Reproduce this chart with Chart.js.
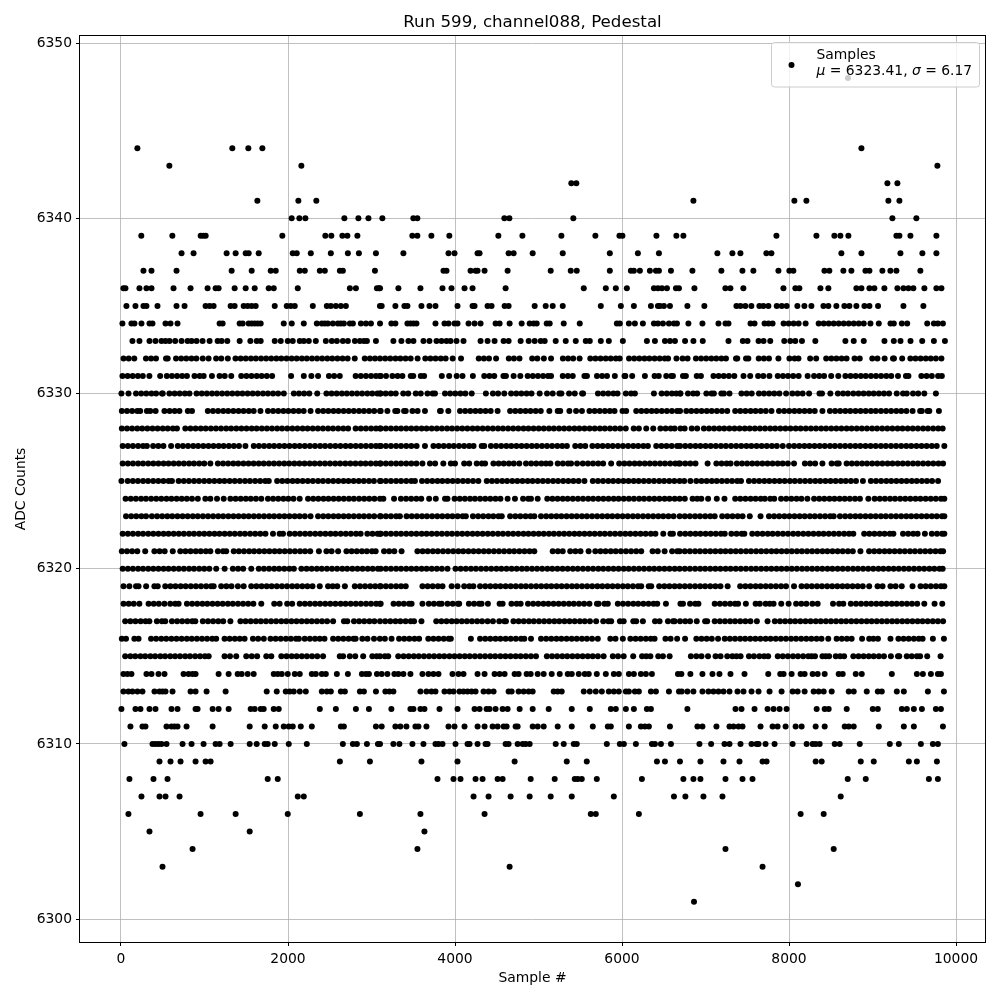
<!DOCTYPE html>
<html><head><meta charset="utf-8">
<style>html,body{margin:0;padding:0;background:#fff}canvas{display:block}</style>
<script src="https://cdn.jsdelivr.net/npm/chart.js@4/dist/chart.umd.min.js"></script>
</head><body><canvas id="c" width="1000" height="1000"></canvas>
<script>
const chartTitle="Run 599, channel088, Pedestal";
const xLabel="Sample #";
const yLabel="ADC Counts";
const seriesName="Samples";
const statMu="6323.41";
const statSigma="6.17";
const s6301=[6862];
const s6302=[8107];
const s6303=[497,4654,7683];
const s6304=[857,3550,7239,8535];
const s6305=[341,1541,3634];
const s6306=[89,953,1373,1997,2861,3586,4354,5626,5686,6202,8139,8415];
const s6307=[245,461,533,701,2117,2189,4222,4402,4666,4894,5146,5398,5902,6622,6759,6975,7203,8619];
const s6308=[101,389,557,1757,1877,3790,3982,4066,4246,4330,4510,4570,4906,5194,5434,5470,5518,5698,6238,6735,6855,6939,7239,7443,7563,8703,8919,9675,9783];
const s6309=[461,593,713,893,1013,1073,2621,2981,3598,4030,4714,5338,5578,6418,6514,6694,6939,7215,7407,7683,7731,8319,8391,8859,9015,9435,9531,9771];
const s6310=[41,377,413,449,485,545,737,845,989,1133,1181,1313,1541,1625,1721,1757,1841,2009,2225,2657,2777,2825,2945,3077,3102,3262,3334,3490,3622,3766,3802,3850,4006,4150,4174,4270,4366,4390,4606,4642,4750,4810,4846,4894,5206,5302,5422,5458,5818,5974,6022,6166,6358,6394,6466,6586,6927,7067,7227,7287,7419,7551,7611,7635,7719,7827,8043,8211,8283,8319,8367,8547,8607,8847,9207,9315,9579,9723,9783];
const s6311=[113,257,293,545,605,641,677,785,1097,1541,1721,1853,1949,2009,2057,2153,2285,2633,2669,3053,3122,3286,3346,3418,3526,3562,3658,3922,3994,4114,4270,4354,4450,4510,4582,4618,4726,4750,4930,4990,5062,5230,5398,5650,5830,5866,6082,6226,6274,6322,6574,6903,6963,7131,7287,7335,7395,7443,7659,7803,7863,7959,8079,8151,8319,8427,8667,8715,8775,9075,9375,9495,9843];
const s6312=[5,173,233,341,413,605,677,893,917,1097,1169,1289,1553,1601,1673,1709,1829,1889,2381,2573,2813,2969,3238,3466,3502,3586,3634,3814,4030,4234,4294,4378,4414,4486,4570,4630,4774,4930,5122,5398,5614,5866,5926,6046,6142,6298,6346,6783,7359,7431,7587,7743,7815,7887,7971,8331,8427,8475,8691,9003,9063,9351,9411,9495,9591,9759,9819];
const s6313=[29,89,137,197,257,401,461,497,533,617,833,893,1025,1253,1745,1865,1973,2021,2069,2141,2213,2405,2465,2513,2633,2681,2861,2909,3053,3166,3214,3262,3586,3658,3718,3766,3874,3934,3982,4054,4102,4150,4198,4246,4342,4402,4462,4642,4678,4762,4822,4882,4930,5182,5230,5278,5542,5614,5686,5758,5842,5902,5962,6046,6082,6154,6202,6346,6406,6562,6682,6715,6783,6855,6963,7035,7095,7155,7215,7287,7383,7455,7551,7635,7767,7911,8043,8103,8187,8295,8355,8415,8511,8715,8775,8931,9063,9111,9291,9375,9663,9855];
const s6314=[29,77,125,305,365,449,521,749,809,857,893,1169,1289,1397,1445,1517,1589,1829,1877,1925,1997,2081,2141,2285,2333,2405,2453,2585,2717,2885,2933,2969,3065,3122,3190,3274,3322,3382,3466,3610,3682,3742,3802,3970,4042,4102,4270,4354,4474,4534,4594,4714,4762,4858,4906,4990,5062,5158,5254,5350,5398,5482,5554,5602,5698,5806,5902,5962,6082,6142,6226,6286,6358,6670,6711,6819,6963,7083,7167,7299,7467,7751,7895,7935,8031,8139,8187,8283,8343,8427,8595,8643,8799,8871,9231,9531,9603,9699,9783,9819];
const s6315=[50,112,171,233,290,352,409,471,528,590,648,707,769,826,888,947,1005,1050,1240,1305,1380,1500,1566,1630,1740,1800,1920,1982,2044,2103,2165,2226,2288,2350,2420,2620,2660,2740,2805,2900,3010,3062,3102,3160,3200,3320,3384,3445,3507,3566,3628,3689,3750,3812,3871,3933,3994,4055,4117,4176,4238,4299,4360,4422,4481,4543,4604,4665,4727,4786,4848,4909,4970,5100,5162,5223,5285,5344,5406,5467,5528,5590,5649,5711,5780,5890,5952,6020,6134,6240,6290,6340,6434,6490,6570,6825,6890,6952,7030,7120,7180,7260,7322,7370,7420,7520,7580,7645,7702,7750,7865,7925,7986,8048,8107,8169,8230,8270,8311,8400,8440,8480,8560,8612,8660,8770,8832,8893,8955,9014,9076,9137,9220,9305,9320,9410,9470,9532,9570,9655,9815];
const s6316=[10,60,160,210,360,421,483,542,604,665,726,788,847,909,970,1031,1093,1140,1240,1301,1363,1422,1480,1580,1642,1710,1790,1852,1913,1975,2034,2096,2130,2200,2262,2323,2380,2437,2540,2602,2663,2725,2784,2810,2890,2952,3030,3100,3160,3240,3330,3392,3453,3515,3570,3680,3742,3803,3865,3924,3950,4190,4300,4362,4423,4485,4544,4606,4667,4728,4790,4830,4910,5030,5092,5153,5215,5274,5336,5397,5458,5520,5579,5641,5710,5860,5922,6010,6100,6162,6223,6285,6344,6390,6520,6582,6660,6755,6890,6952,7013,7075,7150,7230,7292,7353,7415,7474,7536,7597,7658,7720,7779,7841,7902,7963,8025,8084,8146,8207,8268,8330,8389,8470,8570,8632,8693,8750,8875,8960,9010,9065,9215,9310,9372,9433,9495,9554,9600,9723,9855];
const s6317=[50,112,173,235,294,340,430,490,530,610,672,733,795,854,890,980,1042,1103,1165,1224,1310,1430,1492,1553,1615,1674,1736,1797,1858,1920,1979,2041,2102,2163,2225,2284,2346,2407,2468,2540,2670,2710,2790,2852,2913,2975,3034,3102,3164,3225,3287,3346,3408,3469,3510,3598,3775,3837,3898,3960,4019,4081,4142,4203,4265,4324,4390,4454,4530,4592,4610,4700,4762,4823,4885,4944,5006,5067,5128,5190,5249,5311,5372,5433,5495,5554,5616,5690,5775,5837,5870,5975,6020,6135,6170,6250,6395,6450,6550,6612,6630,6695,6757,6815,6895,6995,7020,7110,7172,7233,7295,7354,7416,7477,7538,7615,7743,7830,7892,7953,8015,8074,8136,8197,8258,8320,8379,8441,8502,8563,8625,8684,8746,8807,8868,8930,8989,9051,9112,9173,9235,9294,9356,9417,9478,9540,9599,9661,9722,9783,9845];
const s6318=[30,92,153,220,330,392,453,520,590,650,690,790,852,913,975,1034,1096,1157,1218,1280,1339,1401,1462,1523,1585,1680,1835,1900,1990,2050,2140,2202,2263,2325,2384,2446,2507,2568,2630,2689,2751,2812,2873,2935,2994,3056,3102,3110,3264,3326,3387,3449,3480,3610,3686,3748,3809,3840,3910,3972,4034,4050,4166,4228,4289,4318,4394,4534,4570,4676,4738,4786,4874,4936,4997,5059,5118,5180,5241,5302,5364,5423,5485,5546,5610,5700,5720,5790,5830,5950,6012,6073,6135,6194,6256,6317,6378,6422,6526,6700,6730,6815,6877,6915,7110,7172,7233,7295,7354,7390,7483,7600,7650,7720,7770,7815,7907,7995,8085,8147,8208,8280,8343,8527,8600,8650,8740,8802,8863,8925,8984,9046,9107,9168,9230,9289,9351,9412,9473,9535,9620,9743,9835];
const s6319=[30,100,180,210,301,400,440,530,592,653,715,774,836,897,958,1020,1079,1110,1200,1262,1323,1400,1469,1560,1622,1683,1745,1804,1866,1927,1988,2050,2109,2171,2232,2293,2380,2480,2535,2590,2681,2800,2862,2923,2985,3044,3102,3110,3172,3233,3295,3354,3410,3610,3672,3733,3795,3850,3960,4030,4110,4172,4220,4300,4362,4423,4485,4544,4606,4667,4728,4790,4849,4911,4972,5033,5095,5154,5216,5277,5338,5400,5459,5521,5582,5643,5705,5764,5826,5887,5948,6010,6069,6131,6192,6230,6320,6350,6445,6507,6568,6630,6690,6752,6813,6875,6936,6995,7057,7118,7179,7265,7415,7477,7538,7600,7659,7721,7782,7843,7905,7964,8060,8150,8212,8273,8335,8394,8456,8517,8578,8640,8699,8761,8822,8883,8960,9060,9120,9215,9277,9350,9479,9575,9637,9698,9760,9819,9860];
const s6320=[20,82,143,205,264,326,387,448,510,569,631,692,753,815,874,936,997,1058,1140,1241,1340,1402,1463,1560,1650,1712,1773,1835,1894,1956,2017,2070,2160,2222,2283,2345,2404,2466,2527,2588,2650,2709,2771,2832,2893,2955,3014,3076,3110,3172,3233,3295,3354,3416,3477,3538,3600,3659,3721,3782,3843,3910,4006,4068,4129,4191,4250,4312,4373,4434,4496,4555,4617,4678,4739,4801,4860,4922,4983,5044,5106,5165,5227,5288,5349,5411,5470,5532,5593,5654,5716,5775,5837,5898,5959,6021,6080,6142,6203,6264,6326,6385,6447,6508,6569,6631,6690,6752,6813,6875,6936,6995,7057,7118,7179,7241,7300,7362,7423,7484,7546,7605,7667,7728,7789,7851,7910,7972,8033,8094,8156,8215,8277,8338,8399,8461,8520,8582,8643,8704,8766,8825,8887,8948,9009,9071,9130,9192,9253,9314,9376,9435,9497,9558,9619,9681,9740,9802,9840];
const s6321=[10,72,133,195,290,400,462,523,620,710,772,833,895,954,1016,1070,1160,1222,1260,1350,1412,1473,1535,1594,1656,1717,1778,1840,1899,1961,2022,2083,2145,2204,2266,2370,2460,2522,2600,2700,2762,2823,2885,2944,3006,3050,3150,3212,3273,3360,3550,3612,3673,3735,3794,3856,3917,3978,4040,4099,4161,4222,4283,4345,4404,4466,4527,4588,4650,4709,4771,4832,4893,4950,5170,5232,5290,5380,5442,5503,5600,5680,5742,5803,5865,5924,5986,6047,6108,6170,6230,6366,6428,6510,6600,6662,6690,6752,6813,6875,6934,6996,7057,7118,7180,7239,7301,7362,7423,7485,7544,7606,7667,7728,7790,7849,7911,7972,8033,8095,8154,8216,8277,8338,8400,8459,8521,8582,8643,8705,8764,8855,8959,9021,9082,9144,9203,9265,9326,9387,9449,9508,9570,9631,9692,9754,9813,9845];
const s6322=[20,82,143,205,264,326,387,448,510,569,631,692,753,815,874,936,997,1058,1120,1179,1241,1302,1363,1425,1484,1546,1607,1668,1730,1820,1900,1940,2020,2082,2143,2205,2264,2326,2387,2448,2510,2569,2631,2692,2753,2815,2870,2950,3012,3073,3102,3110,3172,3233,3295,3354,3416,3477,3538,3600,3659,3721,3782,3843,3905,3964,4026,4087,4148,4210,4269,4331,4392,4453,4515,4574,4636,4697,4758,4820,4879,4941,5002,5063,5125,5184,5246,5307,5368,5430,5489,5551,5612,5673,5735,5794,5856,5917,5978,6040,6099,6161,6222,6283,6345,6400,6494,6580,6610,6695,6757,6818,6880,6939,7001,7062,7123,7185,7230,7310,7372,7433,7465,7560,7622,7683,7745,7804,7866,7927,7988,8050,8109,8171,8232,8293,8355,8414,8476,8537,8598,8660,8719,8770,8900,8962,9023,9085,9144,9206,9250,9365,9427,9488,9540,9627,9710,9772,9833,9860];
const s6323=[60,122,183,245,300,370,432,493,555,614,676,737,798,860,919,981,1042,1103,1165,1224,1286,1347,1408,1470,1529,1591,1652,1713,1775,1834,1896,1957,2018,2080,2139,2201,2270,2360,2422,2483,2545,2604,2666,2727,2788,2850,2909,2971,3032,3102,3110,3172,3233,3295,3340,3420,3482,3543,3605,3664,3726,3787,3848,3910,3969,4031,4092,4130,4215,4277,4338,4400,4459,4521,4560,4660,4722,4783,4845,4904,4950,5030,5092,5153,5215,5274,5336,5397,5458,5520,5579,5641,5702,5763,5825,5884,5946,6007,6068,6130,6189,6251,6312,6373,6435,6494,6556,6617,6690,6752,6813,6875,6934,6996,7057,7110,7200,7262,7323,7385,7444,7530,7659,7760,7822,7883,7945,8004,8066,8127,8188,8250,8309,8371,8432,8493,8535,8610,8672,8733,8795,8854,8916,8977,9038,9100,9159,9221,9282,9343,9405,9464,9526,9587,9648,9710,9769,9831,9860];
const s6324=[55,117,178,240,299,361,422,483,545,604,666,727,788,850,920,1010,1070,1150,1230,1310,1372,1433,1495,1554,1616,1680,1760,1822,1883,1945,2004,2066,2140,2240,2302,2363,2425,2484,2546,2607,2668,2730,2789,2851,2912,2973,3035,3102,3142,3270,3352,3414,3475,3537,3596,3690,3770,3880,3910,3995,4057,4118,4180,4239,4301,4362,4423,4485,4544,4630,4718,4815,4877,4910,4990,5105,5167,5228,5290,5349,5411,5472,5533,5595,5654,5716,5777,5838,5900,5959,6021,6082,6143,6205,6264,6326,6387,6448,6510,6569,6631,6690,6752,6845,6900,6950,7031,7135,7227,7355,7417,7478,7540,7599,7661,7710,7775,7823,7905,7967,8028,8090,8149,8220,8300,8362,8423,8485,8544,8606,8667,8728,8790,8849,8950,9025,9087,9148,9210,9269,9331,9392,9453,9515,9574,9636,9697,9758,9820,9860];
const s6325=[5,80,142,203,265,324,386,447,508,570,610,690,752,813,875,934,996,1057,1118,1180,1239,1301,1362,1423,1485,1544,1606,1667,1728,1770,1870,1932,1993,2055,2114,2176,2237,2298,2360,2419,2481,2542,2603,2665,2724,2786,2847,2908,2970,3029,3102,3110,3172,3233,3295,3354,3416,3477,3520,3605,3667,3728,3790,3849,3911,3972,4033,4095,4154,4216,4280,4380,4442,4503,4565,4624,4686,4747,4808,4870,4929,4991,5052,5113,5175,5234,5296,5357,5418,5480,5550,5650,5712,5773,5835,5894,5956,6017,6078,6140,6199,6261,6322,6383,6445,6504,6566,6627,6690,6745,6819,6890,6952,7013,7075,7134,7196,7257,7318,7380,7425,7520,7582,7643,7705,7764,7826,7887,7948,8010,8069,8131,8192,8253,8315,8374,8436,8497,8558,8620,8679,8741,8802,8885,8980,9042,9103,9165,9224,9286,9347,9408,9470,9529,9591,9652,9713,9785];
const s6326=[20,82,143,205,264,326,387,448,510,569,631,692,753,815,874,936,997,1070,1160,1222,1283,1345,1404,1466,1527,1588,1650,1709,1771,1832,1893,1955,2014,2076,2137,2198,2260,2319,2381,2442,2503,2565,2624,2686,2747,2808,2870,2929,2991,3052,3102,3110,3172,3233,3295,3354,3416,3477,3538,3610,3700,3762,3860,3950,4000,4110,4170,4260,4322,4360,4460,4522,4583,4645,4704,4770,4850,4912,4973,5035,5090,5142,5230,5292,5353,5390,5462,5530,5592,5653,5715,5774,5870,5966,6028,6089,6151,6210,6272,6333,6394,6456,6515,6577,6638,6680,6695,6757,6818,6880,7025,7130,7192,7253,7300,7375,7437,7498,7560,7619,7681,7742,7803,7865,7924,7986,8060,8190,8252,8313,8400,8510,8572,8595,8690,8752,8813,8875,8934,8996,9057,9118,9180,9239,9301,9362,9423,9485,9544,9606,9667,9728,9790,9845];
const s6327=[20,82,143,205,264,310,385,447,508,600,680,742,803,865,924,986,1047,1108,1170,1229,1291,1352,1413,1490,1590,1652,1713,1775,1834,1896,1957,2018,2080,2139,2201,2262,2323,2385,2444,2506,2567,2628,2690,2749,2811,2872,2933,2995,3054,3102,3110,3172,3233,3295,3354,3416,3477,3540,3640,3742,3804,3865,3927,3986,4048,4109,4170,4222,4320,4350,4430,4492,4553,4615,4674,4736,4797,4858,4920,4979,5041,5102,5163,5225,5284,5340,5440,5502,5560,5645,5707,5768,5830,5889,5951,6012,6073,6135,6194,6256,6310,6410,6472,6533,6595,6660,6695,6757,6818,6880,6939,7001,7062,7123,7185,7244,7306,7367,7428,7490,7549,7611,7672,7733,7795,7854,7925,8000,8062,8123,8185,8244,8306,8367,8428,8490,8549,8611,8672,8733,8795,8854,8916,8977,9038,9100,9159,9221,9282,9343,9405,9464,9526,9587,9648,9710,9769,9860];
const s6328=[10,72,133,195,254,316,377,438,500,559,621,670,770,832,893,955,1014,1076,1137,1198,1260,1319,1381,1442,1503,1565,1624,1686,1747,1808,1870,1929,1991,2052,2113,2175,2234,2296,2357,2418,2480,2539,2601,2662,2720,2810,2872,2933,2995,3054,3102,3110,3172,3233,3295,3354,3416,3477,3538,3600,3659,3721,3782,3843,3905,3964,4026,4087,4148,4210,4269,4331,4392,4453,4515,4574,4636,4697,4758,4820,4879,4941,5002,5063,5125,5184,5246,5307,5368,5430,5489,5551,5612,5673,5735,5794,5856,5917,5978,6045,6140,6202,6290,6374,6460,6522,6583,6630,6700,6750,6835,6900,6980,7042,7103,7165,7224,7286,7347,7408,7470,7529,7591,7652,7713,7775,7834,7896,7957,8018,8080,8139,8201,8262,8323,8385,8444,8506,8567,8628,8690,8749,8811,8872,8933,8995,9054,9116,9177,9238,9300,9359,9421,9482,9543,9605,9664,9726,9787,9840];
const s6329=[10,72,133,195,230,310,350,415,520,582,643,700,800,850,1040,1102,1163,1225,1284,1346,1407,1468,1530,1589,1670,1760,1822,1883,1945,2004,2066,2127,2188,2270,2360,2422,2483,2545,2604,2666,2727,2788,2850,2909,2971,3032,3102,3110,3190,3284,3310,3390,3410,3490,3552,3640,3820,3830,3920,4060,4122,4183,4245,4304,4366,4427,4510,4660,4722,4783,4845,4904,4966,5027,5130,5230,5260,5370,5450,5520,5610,5672,5733,5795,5854,5910,6006,6050,6170,6232,6293,6355,6414,6476,6537,6598,6660,6695,6770,6830,6892,6953,7015,7074,7136,7197,7260,7355,7417,7478,7540,7599,7661,7722,7790,7880,7942,8003,8065,8124,8186,8247,8308,8400,8490,8552,8613,8675,8734,8796,8857,8918,8980,9039,9101,9162,9223,9285,9344,9406,9480,9570,9590,9660,9680,9795];
const s6330=[5,90,180,242,303,365,420,490,500,580,642,703,765,820,905,967,1028,1090,1149,1211,1272,1333,1395,1454,1516,1577,1638,1700,1759,1821,1882,1950,2070,2132,2193,2255,2350,2460,2522,2583,2645,2704,2766,2827,2888,2950,3009,3071,3102,3110,3170,3232,3290,3380,3440,3530,3590,3670,3732,3760,3880,3942,4003,4065,4124,4200,4370,4454,4516,4590,4672,4734,4795,4857,4916,5014,5102,5170,5250,5274,5366,5434,5522,5534,5712,5774,5835,5897,5946,6046,6108,6154,6382,6474,6536,6597,6650,6695,6700,6790,6852,6900,7010,7072,7100,7190,7220,7287,7430,7492,7553,7640,7700,7762,7823,7885,7965,8040,8102,8163,8240,8365,8395,8495,8585,8647,8705,8770,8832,8893,8955,9014,9076,9137,9198,9290,9365,9410,9485,9547,9620,9759];
const s6331=[17,79,140,202,261,340,469,549,610,672,733,790,880,942,990,1089,1180,1242,1320,1440,1502,1563,1625,1684,1746,1810,2037,2189,2280,2360,2490,2552,2620,2810,2872,2933,2995,3054,3102,3110,3174,3250,3312,3370,3470,3500,3590,3630,3842,3930,4020,4090,4214,4350,4412,4470,4580,4610,4702,4782,4870,4932,4993,5055,5114,5150,5290,5352,5410,5550,5580,5700,5762,5820,5914,6030,6040,6122,6274,6390,6440,6530,6590,6610,6730,6765,6895,6945,7095,7157,7218,7280,7345,7455,7535,7630,7692,7765,7865,7927,7988,8050,8115,8223,8300,8362,8420,8505,8590,8675,8737,8798,8860,8919,8981,9042,9103,9165,9224,9305,9400,9430,9585,9647,9710,9785,9830];
const s6332=[30,92,159,299,360,419,539,559,659,721,782,844,903,979,1049,1139,1201,1279,1371,1433,1494,1556,1615,1677,1738,1799,1861,1920,1982,2043,2104,2166,2225,2287,2348,2409,2471,2530,2592,2653,2714,2799,2919,2981,3042,3102,3164,3225,3287,3346,3408,3469,3552,3644,3706,3767,3829,3888,3972,4072,4284,4346,4407,4492,4644,4706,4772,4924,4986,5064,5150,5292,5354,5415,5492,5620,5682,5743,5805,5864,5926,5972,6084,6146,6207,6269,6328,6390,6451,6512,6552,6652,6725,6785,6885,6947,7008,7070,7129,7191,7245,7365,7380,7485,7513,7637,7699,7760,7873,8005,8067,8113,8253,8325,8445,8507,8568,8630,8689,8785,8847,8997,9059,9145,9245,9257,9355,9453,9515,9576,9638,9697,9759,9825];
const s6333=[137,221,341,413,485,533,581,649,725,797,845,905,977,1061,1157,1205,1273,1421,1549,1625,1673,1841,1913,1997,2057,2141,2189,2249,2333,2453,2525,2585,2657,2717,2801,2861,2909,2945,3053,3262,3358,3442,3502,3622,3694,3778,3838,3898,3946,4018,4102,4306,4390,4474,4582,4642,4786,4882,4954,5026,5074,5206,5326,5446,5566,5614,5746,5842,6010,6298,6394,6514,6574,6634,6755,6855,6967,7275,7447,7503,7635,7695,7775,7943,8015,8075,8155,8315,8675,8775,8895,9143,9255,9335,9455,9595,9735,9867];
const s6334=[17,125,161,245,341,377,533,593,677,1181,1217,1421,1457,1529,1565,1601,1637,1673,1949,2045,2189,2345,2405,2441,2477,2537,2597,2633,2669,2741,2777,2873,2933,2993,3102,3238,3286,3430,3466,3502,3538,3766,3874,3922,3994,4030,4162,4234,4306,4486,4534,4654,4798,4894,4942,4978,5098,5134,5302,5494,5938,5974,6082,6154,6250,6382,6430,6490,6562,6622,6658,6795,6963,7155,7239,7275,7539,7587,7707,7755,7803,7935,7995,8055,8115,8199,8355,8415,8475,8535,8595,8655,8715,8775,8835,8895,8975,9075,9215,9255,9351,9415,9655,9735,9783,9843];
const s6335=[65,173,269,305,437,665,761,1013,1061,1109,1313,1361,1469,1517,1565,1613,1841,1985,2033,2081,2297,2465,2513,2573,2633,2693,3101,3122,3286,3394,3430,3598,3694,3766,4030,4210,4234,4390,4438,4594,4642,4954,5086,5170,5290,5746,5986,6142,6346,6430,6454,6502,6574,6783,6986,7370,7418,7477,7549,7645,7693,7753,7853,7913,7972,8100,8184,8268,8412,8471,8567,8663,8723,8807,8903,8963,9066,9370,9609];
const s6336=[29,53,221,305,365,629,833,1037,1133,1169,1361,1493,1601,1769,1829,2117,2741,2813,3065,3089,3102,3322,3586,3850,3958,4114,4210,4606,5542,5806,5926,6058,6382,6430,6478,6538,6646,6682,6867,7238,7298,7453,7933,8076,8124,8376,8471,8807,8867,8963,9022,9142,9298,9370,9430,9489,9621,9765,9825];
const s6337=[269,365,665,1325,1565,1793,1853,2141,2201,2381,2441,2621,2657,3041,3862,3898,4186,4246,4270,4354,4630,5146,5386,5458,5854,6106,6142,6214,6334,6406,6442,6586,6843,7190,7442,7573,7873,8004,8052,8424,8483,8651,8747,8915,8963,9118,9214,9286,9573];
const s6338=[725,869,1265,1373,1493,1529,1649,2057,2105,2273,2513,2717,2849,3053,3382,3922,3994,4270,4294,4642,4702,4930,5290,5854,6190,6442,7142,7322,7418,7729,7789,8627,8867,9334,9597,9765];
const s6339=[243,615,954,986,1014,1932,2447,2519,2651,2711,2831,3489,3549,3717,3932,4519,4807,5274,5681,5969,6005,6412,6651,6735,7849,8328,8543,8615,8711,9286,9322,9454,9765];
const s6340=[2044,2136,2208,2675,2843,2963,3130,3501,3549,4591,4651,5417,9238,9525];
const s6341=[1633,2124,2339,6855,8064,8208,9190,9322];
const s6342=[5393,5453,9178,9298];
const s6343=[579,2160,9777];
const s6344=[196,1333,1525,1693,8867];
const s6348=[8706];
const adcLevels=[6301,6302,6303,6304,6305,6306,6307,6308,6309,6310,6311,6312,6313,6314,6315,6316,6317,6318,6319,6320,6321,6322,6323,6324,6325,6326,6327,6328,6329,6330,6331,6332,6333,6334,6335,6336,6337,6338,6339,6340,6341,6342,6343,6344,6348];
const sampleRows=[s6301,s6302,s6303,s6304,s6305,s6306,s6307,s6308,s6309,s6310,s6311,s6312,s6313,s6314,s6315,s6316,s6317,s6318,s6319,s6320,s6321,s6322,s6323,s6324,s6325,s6326,s6327,s6328,s6329,s6330,s6331,s6332,s6333,s6334,s6335,s6336,s6337,s6338,s6339,s6340,s6341,s6342,s6343,s6344,s6348];
const xTickValues=[0,2000,4000,6000,8000,10000];
const yTickValues=[6300,6310,6320,6330,6340,6350];

const points=[];
sampleRows.forEach((r,i)=>r.forEach(x=>points.push({x:x,y:adcLevels[i]})));
const FONT='"DejaVu Sans"';

const frameAndLegend={id:'frameAndLegend',
  afterDatasetsDraw(chart){
    const c=chart.ctx,a=chart.chartArea;
    c.save();
    c.strokeStyle='#000';c.lineWidth=1;
    c.strokeRect(a.left-.5,a.top-.5,a.right-a.left+1,a.bottom-a.top+1);
    const bx=771.5,by=42.5,bw=208,bh=44.5,r=3;
    c.beginPath();c.roundRect(bx,by,bw,bh,r);
    c.fillStyle='rgba(255,255,255,0.8)';c.fill();
    c.strokeStyle='#cccccc';c.lineWidth=1;c.stroke();
    c.fillStyle='#000';c.beginPath();c.arc(791.5,65,3,0,Math.PI*2);c.fill();
    c.textBaseline='alphabetic';
    c.font='13.89px '+FONT;
    c.fillText(seriesName,816.5,58.5);
    let x=816.5;const y=75;
    const seg=(t,it)=>{c.font=(it?'italic ':'')+'13.89px '+FONT;c.fillText(t,x,y);x+=c.measureText(t).width;};
    seg('μ',true);seg(' = '+statMu+', ',false);seg('σ',true);seg(' = '+statSigma,false);
    c.restore();
  }};

new Chart(document.getElementById('c'),{
  type:'scatter',
  data:{datasets:[{label:seriesName,data:points,backgroundColor:'#000',borderWidth:0,pointRadius:3,pointHoverRadius:3,clip:false}]},
  plugins:[frameAndLegend],
  options:{
    responsive:false,animation:false,devicePixelRatio:1,
    layout:{padding:{top:0,right:15,bottom:0,left:0}},
    plugins:{
      legend:{display:false},tooltip:{enabled:false},
      title:{display:true,fullSize:false,text:chartTitle,color:'#000',font:{family:FONT,size:16.67,weight:'normal'},padding:{top:13,bottom:3}}
    },
    scales:{
      x:{type:'linear',min:-491,max:10347,bounds:'data',
        afterFit(s){s.height=58;},
        afterBuildTicks(s){s.ticks=xTickValues.map(v=>({value:v}));},
        title:{display:true,text:xLabel,color:'#000',font:{family:FONT,size:13.89},padding:{top:0,bottom:13}},
        grid:{color:'#b0b0b0',lineWidth:.8,tickColor:'#000',tickLength:4,tickWidth:1},
        border:{display:false},
        ticks:{color:'#000',font:{family:FONT,size:13.89},padding:5,autoSkip:false,maxRotation:0,minRotation:0,includeBounds:false,callback:v=>String(v)}},
      y:{type:'linear',min:6298.7,max:6350.4,bounds:'data',
        afterFit(s){s.width=80;},
        afterBuildTicks(s){s.ticks=yTickValues.map(v=>({value:v}));},
        title:{display:true,text:yLabel,color:'#000',font:{family:FONT,size:13.89},padding:{top:13,bottom:0}},
        grid:{color:'#b0b0b0',lineWidth:.8,tickColor:'#000',tickLength:4,tickWidth:1},
        border:{display:false},
        ticks:{color:'#000',font:{family:FONT,size:13.89},padding:4,autoSkip:false,includeBounds:false,callback:v=>String(v)}}
    }
  }
});
</script></body></html>
